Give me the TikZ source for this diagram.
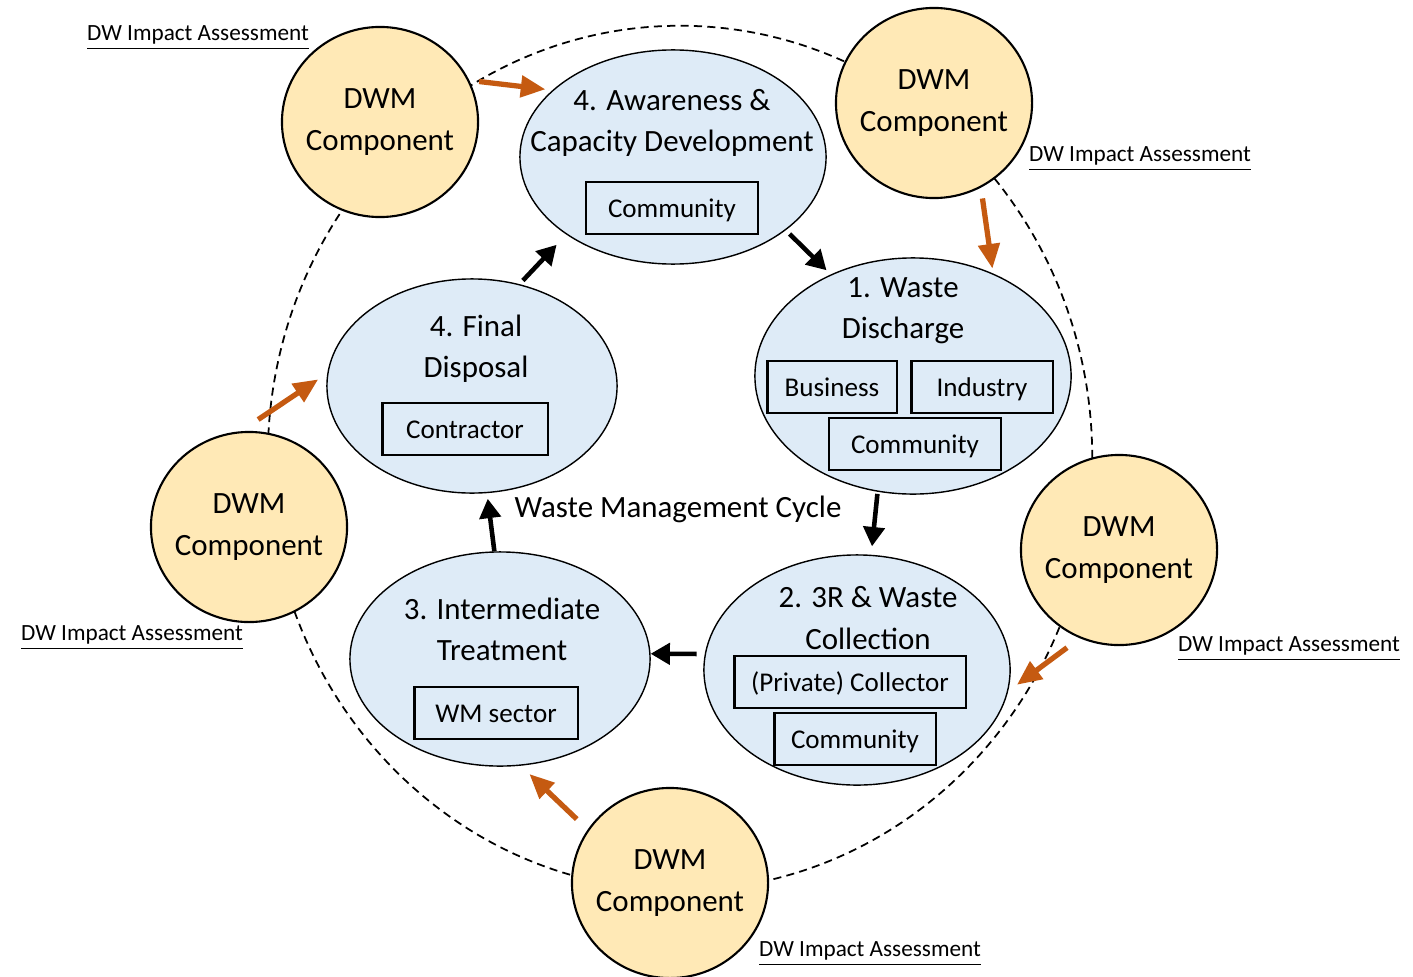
\documentclass[tikz,border=0pt]{standalone}
\usepackage{fontspec}
\setmainfont{Carlito}
\usetikzlibrary{positioning}
\usetikzlibrary{shapes}
\usetikzlibrary{arrows.meta}
\usepackage{xcolor}
\definecolor{wmblue}{HTML}{DEEBF7}
\definecolor{dwmgold}{HTML}{FFE9B6}
\definecolor{dwmorange}{HTML}{C55A11}

\begin{document}
\begin{tikzpicture}[x=0.01cm, y=-0.01cm,
        big/.style={font=\fontsize{8.8}{11.7}\selectfont, align=center, inner sep=0pt},
        stage/.style={ellipse, draw, fill=wmblue, inner sep=0pt, line width=0.4pt},
        dwm/.style={ellipse, draw, fill=dwmgold, minimum width=1.96cm, minimum height=1.9cm, inner sep=0pt, line width=0.6pt},
        who/.style={rectangle, draw, fill=wmblue, line width=0.6pt, minimum height=0.52cm, inner sep=0pt, text height=1.55ex, text depth=0.4ex, font=\fontsize{7.7}{9}\selectfont},
        dwia/.style={font=\fontsize{6.6}{8}\selectfont, inner sep=0pt},
        blk/.style={-{Triangle[length=5.5pt,width=6pt]}, line width=1.3pt},
        org/.style={-{Triangle[length=7pt,width=6pt]}, line width=1.5pt, draw=dwmorange, fill=dwmorange}]
    \useasboundingbox (0,0) rectangle (1413,976);

    % outer dashed ring
    \draw[dash pattern=on 2.3pt off 1.5pt, line width=0.5pt] (680,458) ellipse [x radius=4.12cm, y radius=4.32cm];

    % cycle stages
    \node[stage, minimum width=3.06cm, minimum height=2.14cm] (aware) at (673,157) {};
    \node[stage, minimum width=3.16cm, minimum height=2.36cm] (disch) at (913,376) {};
    \node[stage, minimum width=3.06cm, minimum height=2.30cm] (coll) at (857,670) {};
    \node[stage, minimum width=3.00cm, minimum height=2.14cm] (inter) at (500,659) {};
    \node[stage, minimum width=2.90cm, minimum height=2.14cm] (final) at (472,386) {};

    \node[big] (awaret) at (672,123) {4. Awareness \&\\Capacity Development};
    \node[big] (discht) at (903,311) {1. Waste\\Discharge};
    \node[big] (collt) at (868,618) {2. 3R \& Waste\\Collection};
    \node[big] (intert) at (502,629) {3. Intermediate\\Treatment};
    \node[big] (finalt) at (476,349) {4. Final\\Disposal};

    \node[who, minimum width=1.72cm] (awarec) at (672,208) {Community};
    \node[who, minimum width=1.29cm] (dischb) at (832,387) {Business};
    \node[who, minimum width=1.41cm] (dischi) at (982,387) {Industry};
    \node[who, minimum width=1.72cm] (dischc) at (915,444) {Community};
    \node[who, minimum width=2.31cm] (collp) at (850,682) {(Private) Collector};
    \node[who, minimum width=1.61cm] (collc) at (855,739) {Community};
    \node[who, minimum width=1.63cm] (interw) at (496,713) {WM sector};
    \node[who, minimum width=1.65cm] (finalc) at (465,429) {Contractor};

    \node[big] (cyc) at (678,509) {Waste Management Cycle};

    % DWM components
    \node[dwm] (dwmtl) at (380,122) {};
    \node[dwm] (dwmtr) at (934,103) {};
    \node[dwm] (dwml) at (249,527) {};
    \node[dwm] (dwmr) at (1119,550) {};
    \node[dwm] (dwmb) at (670,883) {};
    \foreach \c in {dwmtl, dwmtr, dwml, dwmr, dwmb}
        \node[big] (\c t) at (\c) {DWM\\Component};

    \node[dwia] (ia1) at (198,38) {\underline{DW Impact Assessment}};
    \node[dwia] (ia2) at (1140,159) {\underline{DW Impact Assessment}};
    \node[dwia] (ia3) at (132,638) {\underline{DW Impact Assessment}};
    \node[dwia] (ia4) at (1289,649) {\underline{DW Impact Assessment}};
    \node[dwia] (ia5) at (870,954) {\underline{DW Impact Assessment}};

    % cycle arrows
    \draw (aware.-33) edge[blk, shorten <=1.5pt, shorten >=1.7pt] (disch.129);
    \draw (disch.253) edge[blk, shorten <=0.6pt, shorten >=2.4pt] (coll.83);
    \draw (coll.174) edge[blk, shorten <=2.3pt] (inter.2);
    \draw (inter.93) edge[blk, shorten >=1.6pt] (final.-82);
    \draw (final.65) edge[blk, shorten <=1.4pt, shorten >=4pt] (aware.-144);

    % component arrows
    \draw (dwmtl.25) edge[org, shorten <=2.8pt, shorten >=2pt] (aware.151);
    \draw (dwmtr.-61) edge[org, shorten <=3.1pt, shorten >=1.4pt] (disch.52);
    \draw (dwmr.-114) edge[org, shorten <=4.5pt, shorten >=3.1pt] (coll.-8.5);
    \draw (dwmb.147) edge[org, shorten <=4.3pt, shorten >=3.4pt] (inter.-79);
    \draw (dwml.95) edge[org, shorten <=6pt, shorten >=3.1pt] (final.175);
\end{tikzpicture}
\end{document}
